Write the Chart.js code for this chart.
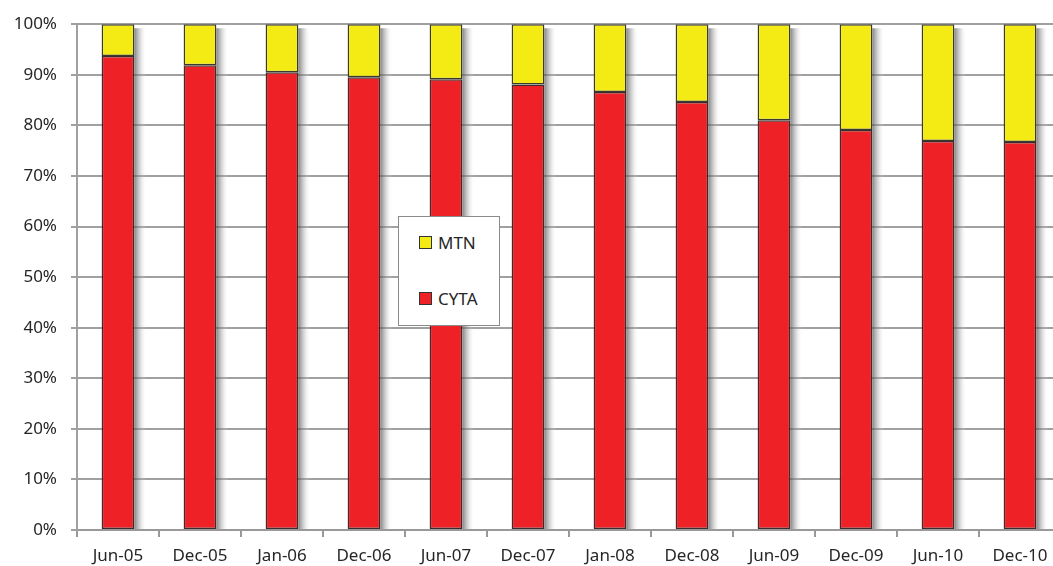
<!DOCTYPE html>
<html>
<head>
<meta charset="utf-8">
<script src="https://cdn.jsdelivr.net/npm/chart.js@4/dist/chart.umd.min.js"></script>
<style>
  html, body { margin: 0; padding: 0; background: #fff; overflow: hidden; }
  #wrap { position: relative; width: 1061px; height: 566px; }
  #legend { position: absolute; left: 398px; top: 216px; width: 100px; height: 108px;
    background: #fff; border: 1px solid #8a8a8a; font-family: "Noto Sans", sans-serif; font-size: 17px; color: #262626; }
  .item { position: absolute; left: 20px; display: flex; align-items: center; }
  .sw { width: 11px; height: 11px; border: 1px solid #333; margin-right: 6px; }
</style>
</head>
<body>
<div id="wrap">
  <canvas id="c" width="1061" height="566"></canvas>
  <div id="legend">
    <div class="item" style="top:14px"><div class="sw" style="background:#F5EB14"></div><span>MTN</span></div>
    <div class="item" style="top:70px"><div class="sw" style="background:#EE2226"></div><span>CYTA</span></div>
  </div>
</div>
<script>
const categories = ["Jun-05","Dec-05","Jan-06","Dec-06","Jun-07","Dec-07","Jan-08","Dec-08","Jun-09","Dec-09","Jun-10","Dec-10"];
const cyta = [93.7, 91.9, 90.5, 89.5, 89.1, 88.1, 86.6, 84.6, 81.0, 79.1, 76.9, 76.7];
const mtn = cyta.map(v => +(100 - v).toFixed(1));
const yTicks = [0,10,20,30,40,50,60,70,80,90,100];

// soft grey shadow to the right of each stacked bar, placed from the bars' own geometry
const shadowPlugin = {
  id: 'shadow',
  beforeDatasetsDraw(chart) {
    const ctx = chart.ctx;
    const bottomMeta = chart.getDatasetMeta(0);
    const topMeta = chart.getDatasetMeta(1);
    ctx.save();
    bottomMeta.data.forEach((bar, i) => {
      const topBar = topMeta.data[i];
      const right = bar.x + bar.width / 2;
      const yTop = Math.min(topBar.y, bar.y) + 4;
      const yBot = bar.base;
      const w = 12;
      const g = ctx.createLinearGradient(right, 0, right + w, 0);
      g.addColorStop(0, 'rgba(90,90,90,0.75)');
      g.addColorStop(0.45, 'rgba(150,150,150,0.4)');
      g.addColorStop(1, 'rgba(255,255,255,0)');
      ctx.fillStyle = g;
      ctx.fillRect(right, yTop, w, yBot - yTop);
    });
    ctx.restore();
  }
};

new Chart(document.getElementById('c'), {
  type: 'bar',
  data: {
    labels: categories,
    datasets: [
      { label: 'CYTA', data: cyta, backgroundColor: '#EE2226', borderColor: '#3a2c2c', borderWidth: 1.5, borderSkipped: false },
      { label: 'MTN', data: mtn, backgroundColor: '#F5EB14', borderColor: '#3a3a2c', borderWidth: 1.5, borderSkipped: false }
    ]
  },
  options: {
    responsive: false,
    animation: false,
    layout: { padding: { top: 24, right: 0, left: 0, bottom: 0 } },
    plugins: { legend: { display: false }, tooltip: { enabled: false } },
    datasets: { bar: { categoryPercentage: 1.0, barPercentage: 0.4 } },
    scales: {
      x: {
        stacked: true,
        offset: true,
        afterFit(s) { s.height = 36; },
        grid: { offset: true, drawOnChartArea: false, drawTicks: true, tickLength: 7, color: '#999', lineWidth: 2 },
        border: { display: true, color: '#999', width: 2 },
        ticks: { color: '#262626', padding: 9, font: { family: 'Noto Sans', size: 17 }, maxRotation: 0, autoSkip: false }
      },
      y: {
        stacked: true,
        min: 0, max: 100,
        afterFit(s) { s.width = 77; },
        afterBuildTicks(s) { s.ticks = yTicks.map(v => ({ value: v })); },
        grid: { color: '#a0a0a0', lineWidth: 2, tickLength: 6 },
        border: { display: true, color: '#a0a0a0', width: 2 },
        ticks: { color: '#262626', padding: 14, font: { family: 'Noto Sans', size: 17 }, callback: v => v + '%' }
      }
    }
  },
  plugins: [shadowPlugin]
});
</script>
</body>
</html>
